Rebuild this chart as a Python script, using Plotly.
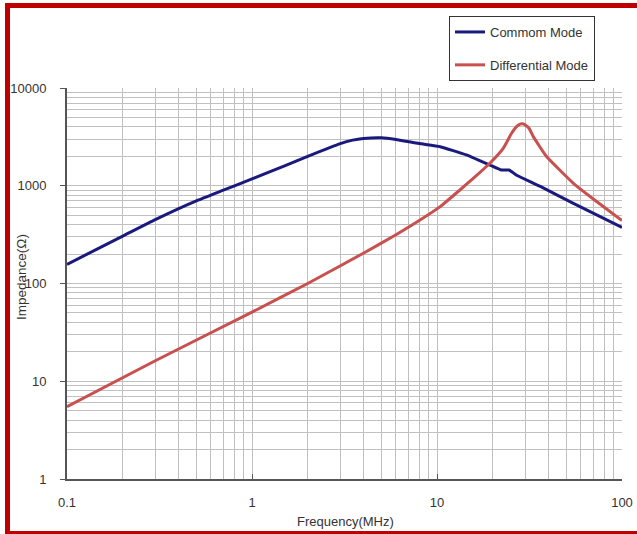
import plotly.graph_objects as go

# Frequency (MHz) and impedance (Ohm)
cm_freq = [0.1, 0.2, 0.3, 0.5, 0.7, 1.0, 1.5, 2.0, 3.0, 3.5, 4.0, 5.0, 6.0, 8.0, 10.4,
           14.4, 19.3, 22.3, 24.5, 26.8, 36.4, 54.6, 100.0]
cm_imp = [157, 305, 450, 700, 900, 1175, 1600, 2000, 2700, 2930, 3050, 3100, 2980, 2700, 2510,
          2070, 1630, 1450, 1450, 1290, 980, 660, 375]

dm_freq = [0.1, 0.3, 1.0, 2.0, 4.0, 6.0, 8.1, 10.4, 13.3, 15.7, 19.3, 22.8, 25.3, 27.0,
           28.1, 29.0, 30.0, 31.5, 33.1, 39.1, 54.6, 72.9, 100.0]
dm_imp = [5.5, 16.2, 51, 100, 204, 315, 446, 611, 905, 1190, 1700, 2415, 3440, 4050,
          4280, 4300, 4180, 3850, 3200, 1990, 1060, 690, 440]

x_tickvals = [0.1, 1, 10, 100]
x_ticktext = ["0.1", "1", "10", "100"]
y_tickvals = [1, 10, 100, 1000, 10000]
y_ticktext = ["1", "10", "100", "1000", "10000"]

W, H = 637, 534
L, R, T, B = 67, 15, 88, 55
pw, ph = W - L - R, H - T - B

def px2paper_x(px):
    return (px - L) / pw

def px2paper_y(py):
    return (H - B - py) / ph

FONT = "Liberation Sans, Arial, sans-serif"
GRID = "#c0c0c0"
TXT = "#333333"

fig = go.Figure()
fig.add_trace(go.Scatter(x=cm_freq, y=cm_imp, mode="lines", name="Commom Mode",
                         line=dict(color="#1a1a7e", width=3, shape="spline", smoothing=0.4),
                         legendgroup="a"))
fig.add_trace(go.Scatter(x=dm_freq, y=dm_imp, mode="lines", name="Differential Mode",
                         line=dict(color="#c8504e", width=3, shape="spline", smoothing=0.4),
                         legendgroup="b"))

fig.update_layout(
    width=W, height=H,
    margin=dict(l=L, r=R, t=T, b=B, autoexpand=False),
    paper_bgcolor="white", plot_bgcolor="white",
    font=dict(family=FONT, size=13, color=TXT),
    legend=dict(x=px2paper_x(449), y=px2paper_y(16), xanchor="left", yanchor="top",
                bordercolor="#333333", borderwidth=1, bgcolor="white",
                font=dict(family=FONT, size=13, color=TXT),
                tracegroupgap=13, itemwidth=30, traceorder="grouped"),
    xaxis=dict(type="log", range=[-1, 2], tickvals=x_tickvals, ticktext=x_ticktext,
               showgrid=True, gridcolor=GRID, gridwidth=1, automargin=False,
               showline=True, linecolor="#555555", linewidth=2,
               ticks="inside", ticklen=5, tickcolor="#555555", ticklabelstandoff=10,
               minor=dict(dtick="D1", showgrid=True, gridcolor=GRID, gridwidth=1, ticks=""),
               zeroline=False),
    yaxis=dict(type="log", range=[0, 4], tickvals=y_tickvals, ticktext=y_ticktext,
               showgrid=True, gridcolor=GRID, gridwidth=1, automargin=False,
               showline=True, linecolor="#555555", linewidth=2,
               ticks="outside", ticklen=5, tickcolor="#555555", ticklabelstandoff=11,
               minor=dict(dtick="D1", showgrid=True, gridcolor=GRID, gridwidth=1, ticks=""),
               zeroline=False),
    annotations=[
        dict(text="Frequency(MHz)", xref="paper", yref="paper",
             x=px2paper_x(345), y=px2paper_y(521), xanchor="center", yanchor="middle",
             showarrow=False, font=dict(family=FONT, size=13, color=TXT)),
        dict(text="Impedance(Ω)", xref="paper", yref="paper", textangle=-90,
             x=px2paper_x(21), y=px2paper_y(277), xanchor="center", yanchor="middle",
             showarrow=False, font=dict(family=FONT, size=13.5, color=TXT)),
    ],
    shapes=[dict(type="rect", xref="paper", yref="paper",
                 x0=px2paper_x(7.5), x1=px2paper_x(645), y0=px2paper_y(533.5), y1=px2paper_y(5.5),
                 line=dict(color="#c00000", width=5), fillcolor="rgba(0,0,0,0)", layer="above")],
)

fig.write_html("out.html", config={"displayModeBar": False},
               post_script="document.body.style.margin='0';document.body.style.overflow='hidden';")
